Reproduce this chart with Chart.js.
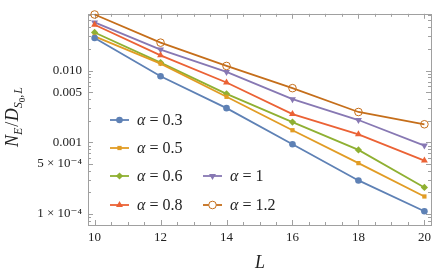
<!DOCTYPE html>
<html><head><meta charset="utf-8">
<script src="https://cdn.jsdelivr.net/npm/chart.js@4/dist/chart.umd.min.js"></script>
<style>html,body{margin:0;padding:0;background:#fff}#wrap{width:441px;height:276px}</style>
</head><body><div id="wrap"><canvas id="c" width="441" height="276"></canvas></div>
<script>
// ---- data ----
const L = [10, 12, 14, 16, 18, 20];
const alphaLabels = ["0.3", "0.5", "0.6", "0.8", "1", "1.2"];
const a03 = [0.0284, 0.00834, 0.00299, 0.000938, 0.000293, 0.000109];
const a05 = [0.0299, 0.0125, 0.0043, 0.00147, 0.000511, 0.000175];
const a06 = [0.034, 0.0129, 0.00473, 0.00191, 0.000782, 0.000234];
const a08 = [0.0436, 0.0163, 0.00681, 0.00247, 0.00129, 0.000555];
const a1  = [0.0469, 0.0196, 0.00956, 0.00399, 0.00204, 0.000897];
const a12 = [0.0605, 0.0245, 0.0116, 0.00568, 0.00264, 0.00178];
const xTicks = [10, 12, 14, 16, 18, 20];
const yTicks = [0.0001, 0.0005, 0.001, 0.005, 0.01];
const yTickLabels = {"0.0001": "1 × 10⁻⁴", "0.0005": "5 × 10⁻⁴", "0.001": "0.001", "0.005": "0.005", "0.01": "0.010"};

const colors = ["#5E81B5", "#E19C24", "#8FB032", "#EB6235", "#8778B3", "#C56E1A"];
const styles = [
  {pointStyle: "circle", radius: 3.3, rot: 0, fill: true},
  {pointStyle: "rect", radius: 3, rot: 0, fill: true},
  {pointStyle: "rectRot", radius: 3.6, rot: 0, fill: true},
  {pointStyle: "triangle", radius: 4, rot: 0, fill: true},
  {pointStyle: "triangle", radius: 4, rot: 180, fill: true},
  {pointStyle: "circle", radius: 3.8, rot: 0, fill: false}
];
const series = [a03, a05, a06, a08, a1, a12];

const datasets = series.map((s, i) => ({
  label: "α = " + alphaLabels[i],
  data: L.map((x, j) => ({x: x, y: s[j]})),
  borderColor: colors[i],
  backgroundColor: styles[i].fill ? colors[i] : "#ffffff",
  pointBackgroundColor: styles[i].fill ? colors[i] : "rgba(255,255,255,0)",
  pointBorderColor: colors[i],
  pointBorderWidth: styles[i].fill ? 0 : 1,
  pointStyle: styles[i].pointStyle,
  pointRadius: styles[i].radius,
  pointRotation: styles[i].rot,
  borderWidth: 1.8,
  tension: 0,
  clip: false
}));

const SERIF = '"Liberation Serif", "DejaVu Serif", serif';
const labeledY = new Set(yTicks.map(v => v.toString()));

function drawRuns(ctx, runs, x, y) {
  // runs: [{t, size, italic, dy}]
  let cx = x;
  for (const r of runs) {
    ctx.font = (r.italic ? "italic " : "") + r.size + "px " + SERIF;
    ctx.fillText(r.t, cx, y + (r.dy || 0));
    cx += ctx.measureText(r.t).width + (r.gap || 0);
  }
  return cx - x;
}
function measureRuns(ctx, runs) {
  let w = 0;
  for (const r of runs) {
    ctx.font = (r.italic ? "italic " : "") + r.size + "px " + SERIF;
    w += ctx.measureText(r.t).width + (r.gap || 0);
  }
  return w;
}

const framePlugin = {
  id: "frame",
  beforeDatasetsDraw(chart) {
    const ctx = chart.ctx, a = chart.chartArea;
    const xs = chart.scales.x, ys = chart.scales.y;
    ctx.save();
    ctx.strokeStyle = "#a0a0a0";
    ctx.lineWidth = 1;
    ctx.strokeRect(Math.round(a.left) + 0.5, Math.round(a.top) + 0.5, Math.round(a.right - a.left), Math.round(a.bottom - a.top));
    ctx.beginPath();
    for (let v = 10; v <= 20.001; v += 0.5) {
      const px = Math.round(xs.getPixelForValue(v)) + 0.5;
      const len = (Math.abs(v % 2) < 1e-6) ? 5 : 3;
      ctx.moveTo(px, a.bottom); ctx.lineTo(px, a.bottom - len);
      ctx.moveTo(px, a.top); ctx.lineTo(px, a.top + len);
    }
    for (let e = -5; e <= -1; e++) {
      for (let m = 1; m <= 9; m++) {
        const v = m * Math.pow(10, e);
        if (v < ys.min || v > ys.max) continue;
        const py = Math.round(ys.getPixelForValue(v)) + 0.5;
        const key = parseFloat(v.toPrecision(3)).toString();
        const len = labeledY.has(key) ? 5 : 3;
        ctx.moveTo(a.left, py); ctx.lineTo(a.left + len, py);
        ctx.moveTo(a.right, py); ctx.lineTo(a.right - len, py);
      }
    }
    ctx.stroke();
    ctx.restore();
  },
  afterDraw(chart) {
    const ctx = chart.ctx;
    ctx.save();
    ctx.fillStyle = "#222";
    ctx.textBaseline = "alphabetic";
    // x title
    ctx.font = "italic 18px " + SERIF;
    ctx.textAlign = "center";
    ctx.fillText("L", 260, 268);
    // y title (rotated)
    ctx.textAlign = "left";
    const runs = [
      {t: "N", size: 18, italic: true},
      {t: "E", size: 12, italic: true, dy: 4, gap: 1},
      {t: "/", size: 18, italic: false, gap: 0.5},
      {t: "D", size: 18, italic: true},
      {t: "S", size: 12, italic: true, dy: 4},
      {t: "0", size: 9, italic: false, dy: 7},
      {t: ",", size: 12, italic: false, dy: 4, gap: 1},
      {t: "L", size: 12, italic: true, dy: 4}
    ];
    const w = measureRuns(ctx, runs);
    ctx.translate(18, 117);
    ctx.rotate(-Math.PI / 2);
    drawRuns(ctx, runs, -w / 2, 0);
    ctx.restore();

    // legend
    ctx.save();
    const pos = [[110, 120], [110, 148], [110, 176], [110, 205], [203, 176], [203, 205]];
    chart.data.datasets.forEach((ds, i) => {
      const [x0, y0] = pos[i];
      ctx.strokeStyle = colors[i];
      ctx.lineWidth = 1.8;
      ctx.beginPath(); ctx.moveTo(x0, y0); ctx.lineTo(x0 + 19, y0); ctx.stroke();
      ctx.fillStyle = styles[i].fill ? colors[i] : "#ffffff";
      ctx.lineWidth = styles[i].fill ? 0 : 1;
      Chart.helpers.drawPoint(ctx, {pointStyle: styles[i].pointStyle, radius: styles[i].radius, rotation: styles[i].rot, borderWidth: styles[i].fill ? 0 : 1}, x0 + 9.5, y0);
      ctx.fillStyle = "#222";
      ctx.textBaseline = "middle";
      drawRuns(ctx, [{t: "α", size: 16, italic: true}, {t: " = " + alphaLabels[i], size: 16, italic: false}], x0 + 27, y0 + 1);
    });
    ctx.restore();
  }
};

new Chart(document.getElementById("c"), {
  type: "line",
  data: {datasets},
  options: {
    responsive: false,
    animation: false,
    devicePixelRatio: 1,
    layout: {padding: {left: 0, top: 13, right: 10, bottom: 0}},
    plugins: {legend: {display: false}, tooltip: {enabled: false}},
    scales: {
      x: {
        type: "linear", min: 9.8, max: 20.2,
        afterBuildTicks: (s) => { s.ticks = xTicks.map(v => ({value: v})); },
        afterFit: (s) => { s.height = 51; },
        grid: {display: false, drawTicks: false},
        border: {display: false},
        ticks: {padding: 5, color: "#222", font: {family: SERIF, size: 13}, maxRotation: 0,
                callback: (v) => String(v)}
      },
      y: {
        type: "logarithmic", min: 7.1e-5, max: 0.0619,
        afterBuildTicks: (s) => { s.ticks = yTicks.map(v => ({value: v})); },
        afterFit: (s) => { s.width = 88; },
        grid: {display: false, drawTicks: false},
        border: {display: false},
        ticks: {padding: 6, color: "#222", font: {family: SERIF, size: 13},
                callback: (v) => yTickLabels[parseFloat(Number(v).toPrecision(3)).toString()] || ""}
      }
    }
  },
  plugins: [framePlugin]
});
</script>
</body></html>
